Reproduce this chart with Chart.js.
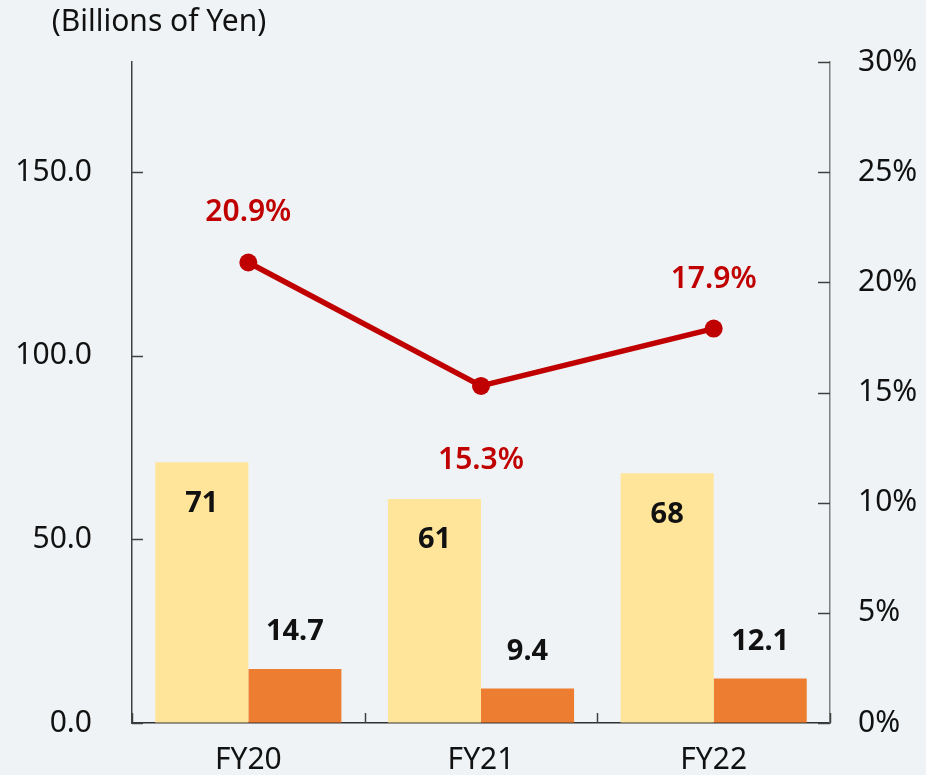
<!DOCTYPE html>
<html>
<head>
<meta charset="utf-8">
<script src="https://cdn.jsdelivr.net/npm/chart.js@4.4.1/dist/chart.umd.min.js"></script>
<style>
  html, body { margin: 0; padding: 0; background: #eff3f5; }
  #wrap { width: 926px; height: 775px; }
</style>
</head>
<body>
<div id="wrap"><canvas id="chart" width="926" height="775"></canvas></div>
<script>
const categories = ["FY20", "FY21", "FY22"];
const salesValues = [71, 61, 68];
const profitValues = [14.7, 9.4, 12.1];
const marginValues = [20.9, 15.3, 17.9];
const leftTicks = [0, 50, 100, 150];
const unitLabel = "(Billions of Yen)";

const FONT = "'Noto Sans', 'Open Sans', sans-serif";
const RED = "#c00000";

// label offsets (px from the mark)
const barLabelOffset = [41, -37];
const lineLabelOffset = [-50, 75, -49];

const overlay = {
  id: "overlay",
  afterDraw(chart) {
    const ctx = chart.ctx;
    const yl = chart.scales.y;
    const yr = chart.scales.y1;
    const area = chart.chartArea;

    ctx.save();
    // inward tick marks
    ctx.strokeStyle = "#404040";
    ctx.lineWidth = 1.5;
    leftTicks.forEach(v => {
      const y = Math.round(yl.getPixelForValue(v)) + 0.5;
      ctx.beginPath();
      ctx.moveTo(area.left, y);
      ctx.lineTo(area.left + 11, y);
      ctx.stroke();
    });
    yr.ticks.forEach(t => {
      const y = Math.round(yr.getPixelForValue(t.value)) + 0.5;
      ctx.beginPath();
      ctx.moveTo(area.right - 12, y);
      ctx.lineTo(area.right, y);
      ctx.stroke();
    });
    const step = (area.right - area.left) / categories.length;
    for (let i = 0; i <= categories.length; i++) {
      const x = Math.round(area.left + i * step) + 0.5;
      ctx.beginPath();
      ctx.moveTo(x, area.bottom);
      ctx.lineTo(x, area.bottom - 10);
      ctx.stroke();
    }

    // unit label
    ctx.fillStyle = "#111";
    ctx.font = "30px " + FONT;
    ctx.textAlign = "center";
    ctx.textBaseline = "middle";
    ctx.fillText(unitLabel, 159, 22);
    ctx.restore();
  },
  afterDatasetsDraw(chart) {
    const ctx = chart.ctx;
    ctx.save();
    ctx.textAlign = "center";
    ctx.textBaseline = "middle";
    [0, 1].forEach(di => {
      const meta = chart.getDatasetMeta(di);
      const vals = chart.data.datasets[di].data;
      ctx.font = "bold 29px " + FONT;
      ctx.fillStyle = "#111";
      meta.data.forEach((bar, i) => {
        ctx.fillText(String(vals[i]), bar.x, bar.y + barLabelOffset[di]);
      });
    });
    const lm = chart.getDatasetMeta(2);
    ctx.font = "600 30px " + FONT;
    ctx.fillStyle = RED;
    lm.data.forEach((pt, i) => {
      ctx.fillText(marginValues[i].toFixed(1) + "%", pt.x, pt.y + lineLabelOffset[i]);
    });
    ctx.restore();
  }
};

new Chart(document.getElementById("chart"), {
  data: {
    labels: categories,
    datasets: [
      {
        type: "bar",
        data: salesValues,
        backgroundColor: "#ffe599",
        yAxisID: "y",
        order: 2,
        categoryPercentage: 0.8,
        barPercentage: 1.0
      },
      {
        type: "bar",
        data: profitValues,
        backgroundColor: "#ed7d31",
        yAxisID: "y",
        order: 2,
        categoryPercentage: 0.8,
        barPercentage: 1.0
      },
      {
        type: "line",
        data: marginValues,
        borderColor: RED,
        backgroundColor: RED,
        borderWidth: 5.5,
        pointRadius: 9,
        pointBackgroundColor: RED,
        pointBorderWidth: 0,
        yAxisID: "y1",
        order: 1
      }
    ]
  },
  options: {
    responsive: false,
    animation: false,
    layout: { padding: { top: 62, left: 0, right: 0, bottom: 0 } },
    plugins: {
      legend: { display: false },
      tooltip: { enabled: false }
    },
    scales: {
      x: {
        grid: { display: true, drawOnChartArea: false, drawTicks: false },
        border: { display: true, color: "#303030", width: 1.5 },
        ticks: { color: "#111", font: { family: FONT, size: 30 }, padding: 19 },
        afterFit(scale) { scale.height = 52; }
      },
      y: {
        position: "left",
        min: 0,
        max: 180,
        grid: { display: true, drawOnChartArea: false, drawTicks: false },
        border: { display: true, color: "#404040", width: 1.5 },
        afterBuildTicks(scale) {
          scale.ticks = leftTicks.map(v => ({ value: v }));
        },
        ticks: {
          color: "#111",
          font: { family: FONT, size: 30 },
          padding: 40,
          callback: v => v.toFixed(1)
        },
        afterFit(scale) {
          scale.width = 132;
          scale.paddingTop = 0;
          scale.paddingBottom = 0;
        }
      },
      y1: {
        position: "right",
        min: 0,
        max: 30,
        grid: { display: true, drawOnChartArea: false, drawTicks: false },
        border: { display: true, color: "#808080", width: 1.5 },
        ticks: {
          stepSize: 5,
          color: "#111",
          font: { family: FONT, size: 30 },
          padding: 28,
          callback: v => v + "%"
        },
        afterFit(scale) {
          scale.width = 96;
          scale.paddingTop = 0;
          scale.paddingBottom = 0;
        }
      }
    }
  },
  plugins: [overlay]
});
</script>
</body>
</html>
